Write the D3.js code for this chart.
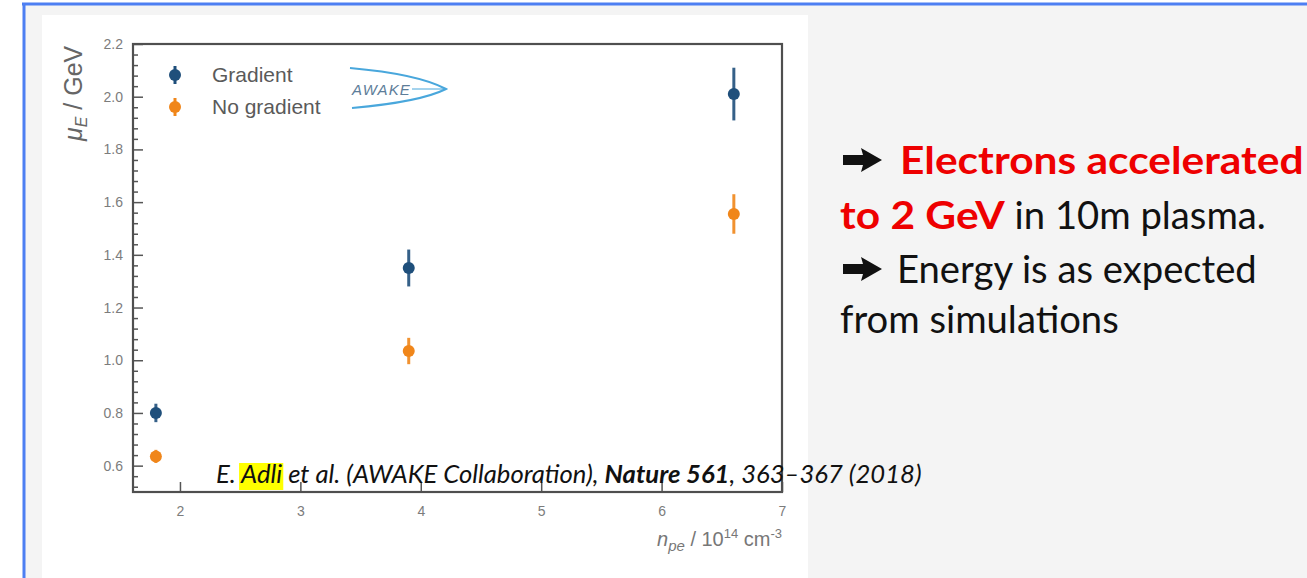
<!DOCTYPE html>
<html>
<head>
<meta charset="utf-8">
<script src="https://cdn.jsdelivr.net/npm/d3@7/dist/d3.min.js"></script>
<style>
  body { margin: 0; background: #fff; }
  svg { display: block; }
</style>
</head>
<body>
<svg id="chart" width="1307" height="578"></svg>
<script>
// data
const densities = [1.8, 3.9, 6.6];
const gradientMu = [0.80, 1.35, 2.01];
const gradientErr = [0.035, 0.07, 0.10];
const noGradientMu = [0.635, 1.035, 1.555];
const noGradientErr = [0.025, 0.05, 0.075];
const xTicks = [2, 3, 4, 5, 6, 7];
const yTicks = [0.6, 0.8, 1.0, 1.2, 1.4, 1.6, 1.8, 2.0, 2.2];
const seriesNames = ['Gradient', 'No gradient'];
const seriesColors = ['#1f4f7b', '#f0861a'];

const svg = d3.select('#chart');

// slide background + blue frame
svg.append('rect').attr('x', 24).attr('y', 4).attr('width', 1283).attr('height', 574).attr('fill', '#f4f4f4');
svg.append('line').attr('x1', 22).attr('x2', 1307).attr('y1', 4).attr('y2', 4)
  .attr('stroke', '#4d7ff2').attr('stroke-width', 3);
svg.append('line').attr('x1', 24).attr('x2', 24).attr('y1', 3).attr('y2', 578)
  .attr('stroke', '#4d7ff2').attr('stroke-width', 3);

// white picture of the plot
svg.append('rect').attr('x', 42).attr('y', 15).attr('width', 766).attr('height', 563).attr('fill', '#fff');

const plot = { left: 133, top: 44, right: 782, bottom: 492 };

const x = d3.scaleLinear().domain([1.61, 7]).range([plot.left, plot.right]);
const y = d3.scaleLinear().domain([0.5, 2.2]).range([plot.bottom, plot.top]);

const axisFont = '"Liberation Sans", Arial, sans-serif';

// y axis, ticks inward
const yMinor = d3.range(0.52, 2.2001, 0.04).filter(v => yTicks.every(t => Math.abs(t - v) > 0.001));
svg.append('g').attr('transform', `translate(${plot.left},0)`)
  .call(d3.axisLeft(y).tickValues(yMinor).tickSize(-5).tickSizeOuter(0).tickFormat(''))
  .call(g => g.select('.domain').remove())
  .call(g => g.selectAll('line').attr('stroke', '#555').attr('stroke-width', 1.5));
svg.append('g').attr('transform', `translate(${plot.left},0)`)
  .call(d3.axisLeft(y).tickValues(yTicks).tickSize(-10).tickSizeOuter(0).tickPadding(10).tickFormat(d3.format('.1f')))
  .call(g => g.select('.domain').remove())
  .call(g => g.selectAll('line').attr('stroke', '#555').attr('stroke-width', 1.5))
  .call(g => g.selectAll('text').attr('fill', '#7c7c7c').style('font', `14px ${axisFont}`));

// x axis
svg.append('g').attr('transform', `translate(0,${plot.bottom})`)
  .call(d3.axisBottom(x).tickValues(xTicks).tickSize(-10).tickSizeOuter(0).tickPadding(14).tickFormat(d3.format('d')))
  .call(g => g.select('.domain').remove())
  .call(g => g.selectAll('line').attr('stroke', '#555').attr('stroke-width', 1.5))
  .call(g => g.selectAll('text').attr('fill', '#7c7c7c').style('font', `14px ${axisFont}`));

// plot frame
svg.append('rect')
  .attr('x', plot.left).attr('y', plot.top)
  .attr('width', plot.right - plot.left).attr('height', plot.bottom - plot.top)
  .attr('fill', 'none').attr('stroke', '#4f4f4f').attr('stroke-width', 2.2);

// axis titles
const yTitle = svg.append('text')
  .attr('transform', 'translate(82,141) rotate(-90)')
  .attr('fill', '#666').style('font-family', axisFont).attr('font-size', 25);
yTitle.append('tspan').attr('font-style', 'italic').text('μ');
yTitle.append('tspan').attr('font-style', 'italic').attr('font-size', 16).attr('dy', 5).text('E');
yTitle.append('tspan').attr('dy', -5).text(' / GeV');

const xTitle = svg.append('text')
  .attr('x', plot.right).attr('y', 546).attr('text-anchor', 'end')
  .attr('fill', '#777').style('font-family', axisFont).attr('font-size', 20);
xTitle.append('tspan').attr('font-style', 'italic').text('n');
xTitle.append('tspan').attr('font-style', 'italic').attr('font-size', 15).attr('dy', 5).text('pe');
xTitle.append('tspan').attr('dy', -5).text(' / 10');
xTitle.append('tspan').attr('font-size', 13).attr('dy', -8).text('14');
xTitle.append('tspan').attr('dy', 8).text(' cm');
xTitle.append('tspan').attr('font-size', 13).attr('dy', -8).text('-3');

// data points with error bars
const series = [
  { name: seriesNames[0], color: seriesColors[0], mu: gradientMu, err: gradientErr },
  { name: seriesNames[1], color: seriesColors[1], mu: noGradientMu, err: noGradientErr }
];

series.forEach(s => {
  const pts = densities.map((d, i) => ({ n: d, mu: s.mu[i], err: s.err[i] }));
  const g = svg.append('g');
  g.selectAll('line').data(pts).enter().append('line')
    .attr('x1', d => x(d.n)).attr('x2', d => x(d.n))
    .attr('y1', d => y(d.mu - d.err)).attr('y2', d => y(d.mu + d.err))
    .attr('stroke', s.color).attr('stroke-width', 3).attr('stroke-opacity', 0.9);
  g.selectAll('circle').data(pts).enter().append('circle')
    .attr('cx', d => x(d.n)).attr('cy', d => y(d.mu)).attr('r', 6)
    .attr('fill', s.color);
});

// legend
const legend = svg.append('g');
series.forEach((s, i) => {
  const ly = 75 + i * 32;
  legend.append('line').attr('x1', 175).attr('x2', 175).attr('y1', ly - 9).attr('y2', ly + 9)
    .attr('stroke', s.color).attr('stroke-width', 3);
  legend.append('circle').attr('cx', 175).attr('cy', ly).attr('r', 6).attr('fill', s.color);
  legend.append('text').attr('x', 212).attr('y', ly + 7)
    .attr('fill', '#5a5a5a').style('font', `21px ${axisFont}`).text(s.name);
});

// AWAKE logo
const logo = svg.append('g');
logo.append('path')
  .attr('d', 'M350,68 Q418,74 446,89 Q420,102 352,108')
  .attr('fill', 'none').attr('stroke', '#49a7dc').attr('stroke-width', 2);
logo.append('line').attr('x1', 412).attr('x2', 443).attr('y1', 89).attr('y2', 89)
  .attr('stroke', '#49a7dc').attr('stroke-width', 1);
logo.append('text').attr('x', 352).attr('y', 95)
  .attr('fill', '#5d7d99').attr('letter-spacing', 1)
  .style('font', `italic 15px ${axisFont}`).text('AWAKE');

// citation line, sized to the slide
const slideFont = 'Lato, "Open Sans", sans-serif';
const cite = svg.append('text').attr('x', 216).attr('y', 483)
  .attr('fill', '#111').style('font-family', slideFont).attr('font-style', 'italic').attr('font-size', 20);
cite.append('tspan').text('E. ');
const adli = cite.append('tspan').text('Adli');
cite.append('tspan').text(' et al. (AWAKE Collaboration), ');
cite.append('tspan').attr('font-weight', 'bold').text('Nature 561');
cite.append('tspan').text(', 363–367 (2018)');
const citeW = cite.node().getComputedTextLength();
cite.attr('font-size', 20 * 706 / citeW);
const ab = adli.node().getBBox();
svg.insert('rect', () => cite.node())
  .attr('x', ab.x - 1).attr('y', 463).attr('width', ab.width + 2).attr('height', 27)
  .attr('fill', '#ffff00');

// slide text on the right
const fs = 39;
const regularSx = 0.98, boldSx = 1.09;
const lines = [
  { y: 174, arrow: true, parts: [{ t: 'Electrons accelerated', red: true }] },
  { y: 229, parts: [{ t: 'to 2 GeV', red: true }, { t: ' in 10m plasma.' }] },
  { y: 283, arrow: true, parts: [{ t: 'Energy is as expected' }] },
  { y: 333, parts: [{ t: 'from simulations' }] }
];
const right = svg.append('g');
lines.forEach(l => {
  let cx = 840;
  if (l.arrow) {
    right.append('path')
      .attr('transform', `translate(843,${l.y - 14})`)
      .attr('d', 'M0,-5 L20,-5 L18,-12 L39,0 L18,12 L20,5 L0,5 Z')
      .attr('fill', '#111');
    cx = l.parts[0].red ? 900 : 897;
  }
  l.parts.forEach(p => {
    const sx = p.red ? boldSx : regularSx;
    const t = right.append('text')
      .attr('transform', `translate(${cx},${l.y}) scale(${sx},1)`)
      .style('font-family', slideFont).attr('font-size', fs)
      .attr('fill', p.red ? '#ee0000' : '#111')
      .attr('font-weight', p.red ? 'bold' : 'normal')
      .style('white-space', 'pre')
      .text(p.t);
    cx += t.node().getComputedTextLength() * sx;
  });
});
</script>
</body>
</html>
